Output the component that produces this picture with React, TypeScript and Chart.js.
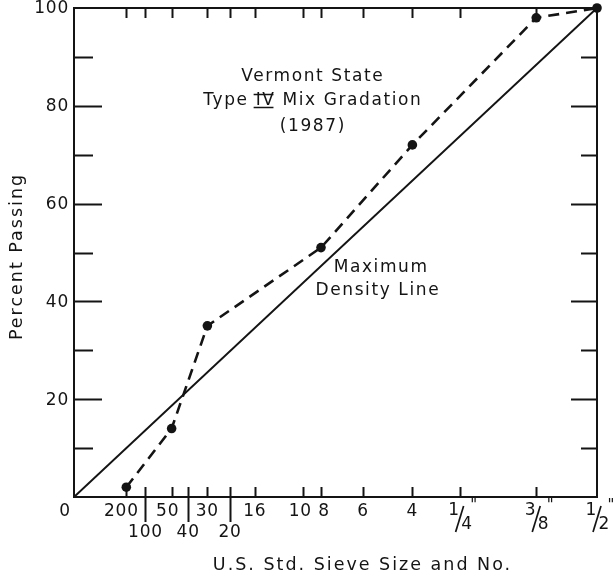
import React, { useEffect, useRef } from "react";
import { Chart, registerables } from "chart.js";

Chart.register(...registerables);

// Sieve axis (0.45 power chart)
const sieveNames = ["200", "100", "50", "40", "30", "20", "16", "10", "8", "6", "4", "1/4", "3/8", "1/2"];
const sieveSizesMm = [0.075, 0.15, 0.3, 0.425, 0.6, 0.85, 1.18, 2.0, 2.36, 3.35, 4.75, 6.35, 9.5, 12.5];
const secondRowSieves = ["100", "40", "20"];
const topSkippedSieves = ["40", "1/2"];

// Vermont State Type IV mix gradation (1987)
const gradationSizesMm = [0.075, 0.3, 0.6, 2.36, 4.75, 9.5, 12.5];
const gradationPassing = [2, 14, 35, 51, 72, 98, 100];

// Maximum density line
const maxDensitySizesMm = [0, 12.5];
const maxDensityPassing = [0, 100];

// Y axis ticks
const yMajorTicks = [20, 40, 60, 80, 100];
const yMinorTicks = [10, 30, 50, 70, 90];

const xTitle = "U.S. Std. Sieve Size and No.";
const yTitle = "Percent Passing";

const POWER = 0.45;
const toX = (mm: number) => Math.pow(mm, POWER);
const X_MAX = toX(12.5);

const INK = "#141414";
const FAMILY = '"DejaVu Sans", "Liberation Sans", sans-serif';

const annotations: { text: string; sieveMm: number; passing: number }[] = [
  { text: "Vermont State", sieveMm: 2.19, passing: 85.9 },
  { text: "Type IV Mix Gradation", sieveMm: 2.19, passing: 81.0 },
  { text: "(1987)", sieveMm: 2.19, passing: 75.7 },
  { text: "Maximum", sieveMm: 3.83, passing: 47.0 },
  { text: "Density Line", sieveMm: 3.74, passing: 42.3 },
];

// small horizontal nudges of crowded labels
const labelNudge: Record<string, number> = { "200": -5, "50": -4, "10": -3, "8": 3 };

function setFont(ctx: CanvasRenderingContext2D, size: number, spacing: number) {
  ctx.font = `${size}px ${FAMILY}`;
  (ctx as any).letterSpacing = `${spacing}px`;
}

const framePlugin = {
  id: "gradationFrame",
  afterDatasetsDraw(chart: any) {
    const ctx: CanvasRenderingContext2D = chart.ctx;
    const xs = chart.scales.x;
    const ys = chart.scales.y;
    const { left, right, top, bottom } = chart.chartArea;
    ctx.save();
    ctx.strokeStyle = INK;
    ctx.fillStyle = INK;
    ctx.lineCap = "butt";

    // frame
    ctx.lineWidth = 2;
    ctx.strokeRect(left, top, right - left, bottom - top);

    // y ticks (inside, left and right)
    ctx.lineWidth = 2;
    const drawYTick = (v: number, lenL: number, lenR: number) => {
      const y = Math.round(ys.getPixelForValue(v)) + 0.5;
      ctx.beginPath();
      ctx.moveTo(left, y);
      ctx.lineTo(left + lenL, y);
      ctx.moveTo(right, y);
      ctx.lineTo(right - lenR, y);
      ctx.stroke();
    };
    yMajorTicks.filter((v) => v < 100).forEach((v) => drawYTick(v, 28, 26));
    yMinorTicks.forEach((v) => drawYTick(v, 19, 16));

    // x ticks (bottom pointing up, top pointing down)
    sieveNames.forEach((name, i) => {
      if (name === "1/2") return;
      const x = Math.round(xs.getPixelForValue(toX(sieveSizesMm[i]))) + 0.5;
      const long = secondRowSieves.includes(name);
      ctx.beginPath();
      ctx.moveTo(x, bottom - 10);
      ctx.lineTo(x, long ? bottom + 25 : bottom);
      if (!topSkippedSieves.includes(name)) {
        ctx.moveTo(x, top);
        ctx.lineTo(x, top + 10);
      }
      ctx.stroke();
    });

    // y tick labels
    setFont(ctx, 17, 0.8);
    ctx.textAlign = "right";
    ctx.textBaseline = "middle";
    yMajorTicks.forEach((v) => {
      ctx.fillText(String(v), left - 5, ys.getPixelForValue(v) + 1);
    });

    // x tick labels
    ctx.textAlign = "center";
    ctx.textBaseline = "middle";
    setFont(ctx, 17, 0.8);
    ctx.fillText("0", xs.getPixelForValue(0) - 9, bottom + 15);
    sieveNames.forEach((name, i) => {
      const x = xs.getPixelForValue(toX(sieveSizesMm[i]));
      if (name.includes("/")) {
        const [num, den] = name.split("/");
        setFont(ctx, 17, 0);
        ctx.fillText(num, x - 6, bottom + 14);
        ctx.fillText(den, x + 7, bottom + 28);
        ctx.lineWidth = 1.7;
        ctx.beginPath();
        ctx.moveTo(x - 4, bottom + 35);
        ctx.lineTo(x + 4, bottom + 9);
        ctx.stroke();
        setFont(ctx, 15, 0);
        ctx.fillText("\u0022", x + 14, bottom + 9);
        setFont(ctx, 17, 0.8);
        return;
      }
      const row2 = secondRowSieves.includes(name);
      const dx = labelNudge[name] || 0;
      ctx.fillText(name, x + dx, bottom + (row2 ? 36 : 15));
    });

    // axis titles
    setFont(ctx, 17.5, 2);
    ctx.textAlign = "center";
    ctx.textBaseline = "middle";
    ctx.fillText(xTitle, (left + right) / 2 + 27, bottom + 68);
    ctx.save();
    ctx.translate(17, (top + bottom) / 2 + 4);
    ctx.rotate(-Math.PI / 2);
    ctx.fillText(yTitle, 0, 0);
    ctx.restore();

    // annotations
    setFont(ctx, 17, 1.6);
    annotations.forEach((a) => {
      const x = xs.getPixelForValue(toX(a.sieveMm));
      const y = ys.getPixelForValue(a.passing);
      ctx.textAlign = "center";
      ctx.fillText(a.text, x, y);
      if (a.text.includes(" IV ")) {
        const full = ctx.measureText(a.text).width;
        const pre = ctx.measureText("Type ").width;
        const iv = ctx.measureText("IV").width;
        const x0 = x - full / 2 + pre - 2;
        ctx.lineWidth = 1.5;
        ctx.beginPath();
        ctx.moveTo(x0, y - 6.5);
        ctx.lineTo(x0 + iv, y - 6.5);
        ctx.moveTo(x0, y + 6.5);
        ctx.lineTo(x0 + iv, y + 6.5);
        ctx.stroke();
      }
    });
    ctx.restore();
  },
};

export default function App() {
  const ref = useRef<HTMLCanvasElement | null>(null);

  useEffect(() => {
    if (!ref.current) return;
    const chart = new Chart(ref.current, {
      type: "scatter",
      data: {
        datasets: [
          {
            label: "Vermont State Type IV Mix Gradation (1987)",
            data: gradationSizesMm.map((mm, i) => ({ x: toX(mm), y: gradationPassing[i] })),
            showLine: true,
            borderColor: INK,
            borderWidth: 2.6,
            borderDash: [11, 7],
            pointRadius: 4.8,
            pointBackgroundColor: INK,
            pointBorderWidth: 0,
            clip: false,
          } as any,
          {
            label: "Maximum Density Line",
            data: maxDensitySizesMm.map((mm, i) => ({ x: toX(mm), y: maxDensityPassing[i] })),
            showLine: true,
            borderColor: INK,
            borderWidth: 1.9,
            pointRadius: 0,
            clip: false,
          } as any,
        ],
      },
      options: {
        responsive: false,
        animation: false,
        devicePixelRatio: 1,
        layout: { padding: { left: 74, right: 18, top: 8, bottom: 82 } },
        plugins: {
          legend: { display: false },
          tooltip: { enabled: false },
          title: { display: false },
        },
        scales: {
          x: { type: "linear", min: 0, max: X_MAX, display: false },
          y: { type: "linear", min: 0, max: 100, display: false },
        },
      },
      plugins: [framePlugin],
    });
    return () => chart.destroy();
  }, []);

  return (
    <div style={{ position: "absolute", left: 0, top: 0, width: 615, height: 579, background: "#fff" }}>
      <canvas ref={ref} width={615} height={579} style={{ display: "block" }} />
    </div>
  );
}
